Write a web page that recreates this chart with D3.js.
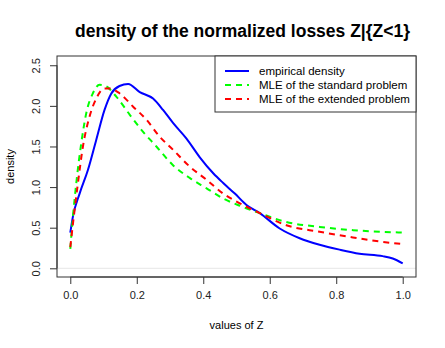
<!DOCTYPE html>
<html>
<head>
<meta charset="utf-8">
<script src="https://cdn.jsdelivr.net/npm/d3@7"></script>
<style>
  body { margin: 0; background: #fff; }
  svg { display: block; font-family: "Liberation Sans", Arial, Helvetica, sans-serif; }
</style>
</head>
<body>
<div id="chart"></div>
<script>
// values
var empZ  = [0, 0.008, 0.028, 0.053, 0.078, 0.103, 0.123, 0.148, 0.174, 0.209, 0.249, 0.279, 0.309, 0.349, 0.389, 0.43, 0.46, 0.495, 0.53, 0.57, 0.63, 0.69, 0.75, 0.81, 0.87, 0.94, 0.97, 1.0];
var empD  = [0.44, 0.64, 0.92, 1.21, 1.58, 1.95, 2.15, 2.245, 2.27, 2.17, 2.09, 1.95, 1.79, 1.60, 1.37, 1.17, 1.05, 0.92, 0.78, 0.68, 0.49, 0.37, 0.29, 0.23, 0.18, 0.15, 0.12, 0.06];

var stdZ  = [0, 0.008, 0.018, 0.033, 0.048, 0.068, 0.088, 0.108, 0.139, 0.179, 0.219, 0.259, 0.309, 0.36, 0.41, 0.46, 0.51, 0.57, 0.65, 0.75, 0.85, 1.0];
var stdD  = [0.24, 0.64, 1.05, 1.54, 1.91, 2.155, 2.26, 2.24, 2.11, 1.89, 1.68, 1.50, 1.27, 1.11, 0.985, 0.86, 0.77, 0.68, 0.57, 0.51, 0.47, 0.44];

var extZ  = [0, 0.008, 0.023, 0.038, 0.058, 0.078, 0.103, 0.118, 0.148, 0.189, 0.229, 0.269, 0.309, 0.36, 0.41, 0.46, 0.51, 0.57, 0.65, 0.75, 0.85, 0.93, 1.0];
var extD  = [0.26, 0.55, 1.05, 1.50, 1.87, 2.09, 2.215, 2.215, 2.155, 1.99, 1.83, 1.62, 1.46, 1.25, 1.09, 0.92, 0.80, 0.68, 0.53, 0.45, 0.38, 0.33, 0.30];

var xTicks = [0, 0.2, 0.4, 0.6, 0.8, 1.0];
var yTicks = [0, 0.5, 1.0, 1.5, 2.0, 2.5];
var legendLabels = ["empirical density", "MLE of the standard problem", "MLE of the extended problem"];
var legendColors = ["#0000ff", "#00ff00", "#ff0000"];

var width = 445, height = 348;
var box = {left: 57, right: 416, top: 56, bottom: 277};

var svg = d3.select("#chart").append("svg")
  .attr("width", width)
  .attr("height", height);

var x = d3.scaleLinear().domain([-0.04, 1.04]).range([box.left, box.right]);
var y = d3.scaleLinear().domain([-0.107, 2.614]).range([box.bottom, box.top]);

// zero line
svg.append("line")
  .attr("x1", box.left).attr("x2", box.right)
  .attr("y1", y(0)).attr("y2", y(0))
  .style("stroke", "#e6e6e6")
  .style("stroke-width", 1);

var line = d3.line()
  .x(function(d){ return x(d[0]); })
  .y(function(d){ return y(d[1]); })
  .curve(d3.curveMonotoneX);

var series = [
  {z: empZ, d: empD, color: legendColors[0], dash: null},
  {z: stdZ, d: stdD, color: legendColors[1], dash: "6,5"},
  {z: extZ, d: extD, color: legendColors[2], dash: "6,5"}
];

series.forEach(function(s){
  svg.append("path")
    .datum(d3.zip(s.z, s.d))
    .attr("d", line)
    .style("fill", "none")
    .style("stroke", s.color)
    .style("stroke-width", 2)
    .style("stroke-dasharray", s.dash);
});

// axes
var xAxis = svg.append("g")
  .attr("transform", "translate(0," + box.bottom + ")")
  .call(d3.axisBottom(x).tickValues(xTicks).tickFormat(d3.format(".1f")).tickSize(7).tickPadding(7));
xAxis.select(".domain").attr("d", "M" + x(0) + ",0H" + x(1));

var yAxis = svg.append("g")
  .attr("transform", "translate(" + box.left + ",0)")
  .call(d3.axisLeft(y).tickValues(yTicks).tickFormat(d3.format(".1f")).tickSize(7).tickPadding(6));
yAxis.select(".domain").attr("d", "M0," + y(0) + "V" + y(2.5));
yAxis.selectAll(".tick text")
  .attr("transform", "rotate(-90)")
  .attr("text-anchor", "middle")
  .attr("x", 0)
  .attr("dx", 0)
  .attr("y", -21)
  .attr("dy", "0.35em");

[xAxis, yAxis].forEach(function(a){
  a.selectAll(".domain, .tick line").style("stroke", "#333");
  a.selectAll(".tick text").style("font-size", "11px").style("fill", "#222");
});

// plot box
svg.append("rect")
  .attr("x", box.left).attr("y", box.top)
  .attr("width", box.right - box.left).attr("height", box.bottom - box.top)
  .style("fill", "none")
  .style("stroke", "#333")
  .style("stroke-width", 1);

// title and labels
svg.append("text")
  .attr("x", (box.left + box.right) / 2 + 6)
  .attr("y", 37)
  .attr("text-anchor", "middle")
  .style("font-size", "17.5px")
  .style("font-weight", "bold")
  .text("density of the normalized losses Z|{Z<1}");

svg.append("text")
  .attr("x", (box.left + box.right) / 2)
  .attr("y", 329)
  .attr("text-anchor", "middle")
  .style("font-size", "11px")
  .text("values of Z");

svg.append("text")
  .attr("transform", "translate(14," + ((box.top + box.bottom) / 2) + ") rotate(-90)")
  .attr("text-anchor", "middle")
  .style("font-size", "11px")
  .text("density");

// legend
var lg = svg.append("g");
lg.append("rect")
  .attr("x", 215).attr("y", box.top)
  .attr("width", box.right - 215).attr("height", 56)
  .style("fill", "#fff")
  .style("stroke", "#333");

legendLabels.forEach(function(t, i){
  var yy = 71 + i * 14;
  lg.append("line")
    .attr("x1", 225).attr("x2", 249)
    .attr("y1", yy).attr("y2", yy)
    .style("stroke", legendColors[i])
    .style("stroke-width", 2)
    .style("stroke-dasharray", i === 0 ? null : "6,5");
  lg.append("text")
    .attr("x", 259).attr("y", yy)
    .attr("dy", "0.35em")
    .style("font-size", "11.5px")
    .text(t);
});
</script>
</body>
</html>
